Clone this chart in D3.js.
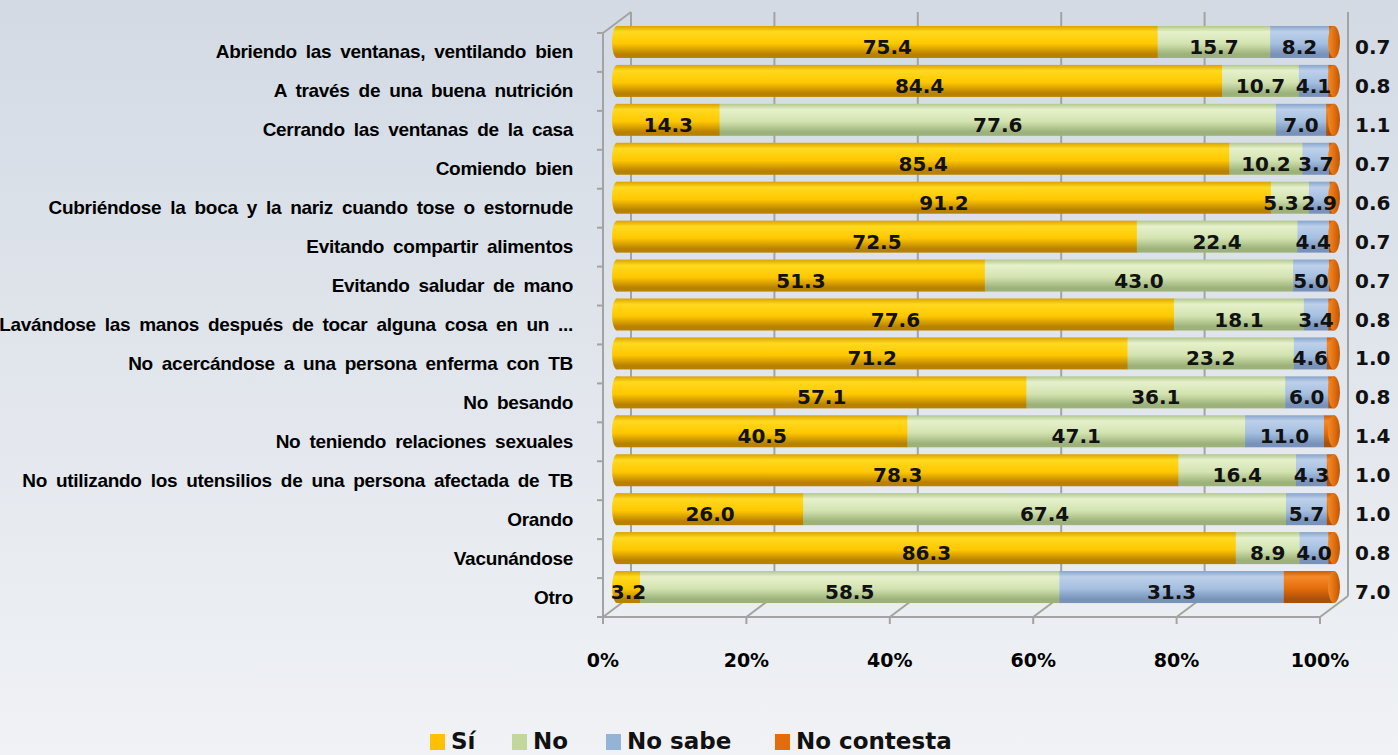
<!DOCTYPE html>
<html>
<head>
<meta charset="utf-8">
<title>Formas de prevenir la TB</title>
<script src="https://d3js.org/d3.v7.min.js"></script>
<style>
  html, body { margin: 0; padding: 0; }
  body { width: 1398px; height: 755px; overflow: hidden; }
</style>
</head>
<body>
<div id="chart"></div>
<script>
// categories and values (percent)
var categories = [
  "Abriendo las ventanas, ventilando bien",
  "A través de una buena nutrición",
  "Cerrando las ventanas de la casa",
  "Comiendo bien",
  "Cubriéndose la boca y la nariz cuando tose o estornude",
  "Evitando compartir alimentos",
  "Evitando saludar de mano",
  "Lavándose las manos después de tocar alguna cosa en un ...",
  "No acercándose a una persona enferma con TB",
  "No besando",
  "No teniendo relaciones sexuales",
  "No utilizando los utensilios de una persona afectada de TB",
  "Orando",
  "Vacunándose",
  "Otro"
];
var si         = [75.4, 84.4, 14.3, 85.4, 91.2, 72.5, 51.3, 77.6, 71.2, 57.1, 40.5, 78.3, 26.0, 86.3, 3.2];
var no         = [15.7, 10.7, 77.6, 10.2, 5.3, 22.4, 43.0, 18.1, 23.2, 36.1, 47.1, 16.4, 67.4, 8.9, 58.5];
var noSabe     = [8.2, 4.1, 7.0, 3.7, 2.9, 4.4, 5.0, 3.4, 4.6, 6.0, 11.0, 4.3, 5.7, 4.0, 31.3];
var noContesta = [0.7, 0.8, 1.1, 0.7, 0.6, 0.7, 0.7, 0.8, 1.0, 0.8, 1.4, 1.0, 1.0, 0.8, 7.0];
var seriesNames = ["Sí", "No", "No sabe", "No contesta"];
var xTicks = [0, 20, 40, 60, 80, 100];

// colours: [dark edge, light, mid, dark bottom]
var palette = {
  "Sí":          ["#d9a200", "#ffd91f", "#ffc800", "#b98100"],
  "No":          ["#b3c78c", "#e6f1cc", "#d3e3b0", "#9db27a"],
  "No sabe":     ["#86a4cc", "#bdd0ea", "#a5bfe0", "#7892ba"],
  "No contesta": ["#c95d06", "#f58a2c", "#e46c0a", "#a9500a"]
};
var legendColors = { "Sí": "#ffc000", "No": "#c3d69b", "No sabe": "#95b3d7", "No contesta": "#e46c0a" };

var W = 1398, H = 755;
var svg = d3.select("#chart").append("svg")
  .attr("width", W).attr("height", H)
  .style("font-family", "'DejaVu Sans', Verdana, sans-serif");

var defs = svg.append("defs");
var bg = defs.append("linearGradient").attr("id", "bg")
  .attr("x1", 0).attr("y1", 0).attr("x2", 0).attr("y2", 1);
bg.append("stop").attr("offset", "0%").attr("stop-color", "#d3dae4");
bg.append("stop").attr("offset", "100%").attr("stop-color", "#f0f2f5");

seriesNames.forEach(function(s, i) {
  var g = defs.append("linearGradient").attr("id", "g" + i)
    .attr("x1", 0).attr("y1", 0).attr("x2", 0).attr("y2", 1);
  var c = palette[s];
  g.append("stop").attr("offset", "0%").attr("stop-color", c[0]);
  g.append("stop").attr("offset", "18%").attr("stop-color", c[1]);
  g.append("stop").attr("offset", "55%").attr("stop-color", c[2]);
  g.append("stop").attr("offset", "88%").attr("stop-color", c[3]);
  g.append("stop").attr("offset", "100%").attr("stop-color", c[3]);
});
var capG = defs.append("linearGradient").attr("id", "cap")
  .attr("x1", 0).attr("y1", 0).attr("x2", 1).attr("y2", 0);
capG.append("stop").attr("offset", "0%").attr("stop-color", "#f08a2a");
capG.append("stop").attr("offset", "60%").attr("stop-color", "#e06a0a");
capG.append("stop").attr("offset", "100%").attr("stop-color", "#b85808");

svg.append("rect").attr("width", W).attr("height", H).attr("fill", "url(#bg)");

// 3D geometry
var depthX = 28, depthY = -21;
var frontTop = 33, frontBottom = 617;
var xFront = d3.scaleLinear().domain([0, 100]).range([603, 1320]);
var xBack = d3.scaleLinear().domain([0, 100]).range([603 + depthX, 1320 + depthX]);
var xBar = d3.scaleLinear().domain([0, 100]).range([603 + depthX / 2, 1320 + depthX / 2]);
var y = d3.scaleBand().domain(categories).range([frontTop, frontBottom]);
var barH = 32;

var gridColor = "#a3a3a3";
var grid = svg.append("g").attr("stroke", gridColor).attr("stroke-width", 2).attr("fill", "none");
// back wall gridlines
grid.selectAll(".vg").data(xTicks).join("line")
  .attr("x1", d => xBack(d)).attr("x2", d => xBack(d))
  .attr("y1", frontTop + depthY).attr("y2", frontBottom + depthY);
// floor diagonals
grid.selectAll(".fd").data(xTicks).join("line")
  .attr("x1", d => xBack(d)).attr("y1", frontBottom + depthY)
  .attr("x2", d => xFront(d)).attr("y2", frontBottom);
// floor front edge
grid.append("line").attr("x1", xFront(0)).attr("x2", xFront(100))
  .attr("y1", frontBottom).attr("y2", frontBottom);
grid.selectAll(".ft").data(xTicks).join("line")
  .attr("x1", d => xFront(d)).attr("x2", d => xFront(d))
  .attr("y1", frontBottom).attr("y2", frontBottom + 7);
// left wall
grid.append("line").attr("x1", xFront(0)).attr("x2", xFront(0))
  .attr("y1", frontTop).attr("y2", frontBottom + 7);
grid.append("line").attr("x1", xFront(0)).attr("y1", frontTop)
  .attr("x2", xBack(0)).attr("y2", frontTop + depthY);
var bounds = categories.map(c => y(c)).concat([frontBottom]);
grid.selectAll(".lt").data(bounds).join("line")
  .attr("x1", xFront(0) - 6).attr("x2", xFront(0))
  .attr("y1", d => d).attr("y2", d => d);

// bars
var rows = categories.map(function(c, i) {
  var vals = [si[i], no[i], noSabe[i], noContesta[i]];
  var total = d3.sum(vals);
  var acc = 0;
  var segs = vals.map(function(v, k) {
    var s = { series: k, value: v, x0: acc / total * 100, x1: (acc + v) / total * 100 };
    acc += v;
    return s;
  });
  return { cat: c, cy: y(c) + y.bandwidth() / 2 + depthY / 2, segs: segs, nc: noContesta[i] };
});

var barG = svg.append("g");
rows.forEach(function(r) {
  var g = barG.append("g");
  // left end
  g.append("ellipse").attr("cx", xBar(0)).attr("cy", r.cy)
    .attr("rx", 5).attr("ry", barH / 2).attr("fill", "url(#g" + r.segs[0].series + ")");
  g.selectAll("rect").data(r.segs).join("rect")
    .attr("x", d => xBar(d.x0)).attr("width", d => Math.max(0, xBar(d.x1) - xBar(d.x0)) + 0.5)
    .attr("y", r.cy - barH / 2).attr("height", barH)
    .attr("fill", d => "url(#g" + d.series + ")");
  // right end cap
  g.append("ellipse").attr("cx", xBar(100)).attr("cy", r.cy)
    .attr("rx", 6).attr("ry", barH / 2).attr("fill", "url(#cap)");
  // inner labels
  var labels = g.selectAll("text").data(r.segs.filter(d => d.series < 3)).join("text")
    .attr("x", d => xBar((d.x0 + d.x1) / 2)).attr("y", r.cy + 12)
    .attr("text-anchor", "middle")
    .style("font-size", "20px").style("font-weight", "bold").attr("fill", "#111")
    .text(d => d3.format(".1f")(d.value));
  // push neighbouring labels apart when they collide (right one keeps its place)
  var nodes = labels.nodes();
  for (var k = nodes.length - 2; k >= 0; k--) {
    var a = nodes[k], b = nodes[k + 1];
    var bLeft = +b.getAttribute("x") - b.getComputedTextLength() / 2;
    var aRight = +a.getAttribute("x") + a.getComputedTextLength() / 2;
    if (aRight > bLeft - 3) a.setAttribute("x", +a.getAttribute("x") - (aRight - bLeft + 3));
  }
  // no contesta label outside
  svg.append("text").attr("x", 1355).attr("y", r.cy + 12)
    .style("font-size", "20px").style("font-weight", "bold").attr("fill", "#111")
    .text(d3.format(".1f")(r.nc));
});

// category labels
svg.append("g").selectAll("text").data(categories).join("text")
  .attr("x", 573).attr("y", d => y(d) + y.bandwidth() / 2 + 6)
  .attr("text-anchor", "end")
  .style("font-family", "'Liberation Sans', Arial, sans-serif")
  .style("font-size", "19px").style("font-weight", "bold")
  .style("letter-spacing", "-0.3px").style("word-spacing", "4px")
  .attr("fill", "#000")
  .text(d => d);

// x axis labels
svg.append("g").selectAll("text").data(xTicks).join("text")
  .attr("x", d => xFront(d)).attr("y", 667)
  .attr("text-anchor", "middle")
  .style("font-size", "19px").style("font-weight", "bold").attr("fill", "#000")
  .text(d => d + "%");

// legend
var legendX = [430, 512, 606, 775];
var leg = svg.append("g");
seriesNames.forEach(function(s, i) {
  leg.append("rect").attr("x", legendX[i]).attr("y", 734)
    .attr("width", 15).attr("height", 16).attr("fill", legendColors[s]);
  leg.append("text").attr("x", legendX[i] + 21).attr("y", 749)
    .style("font-size", "23px").style("font-weight", "bold").attr("fill", "#111")
    .text(s);
});
</script>
</body>
</html>
